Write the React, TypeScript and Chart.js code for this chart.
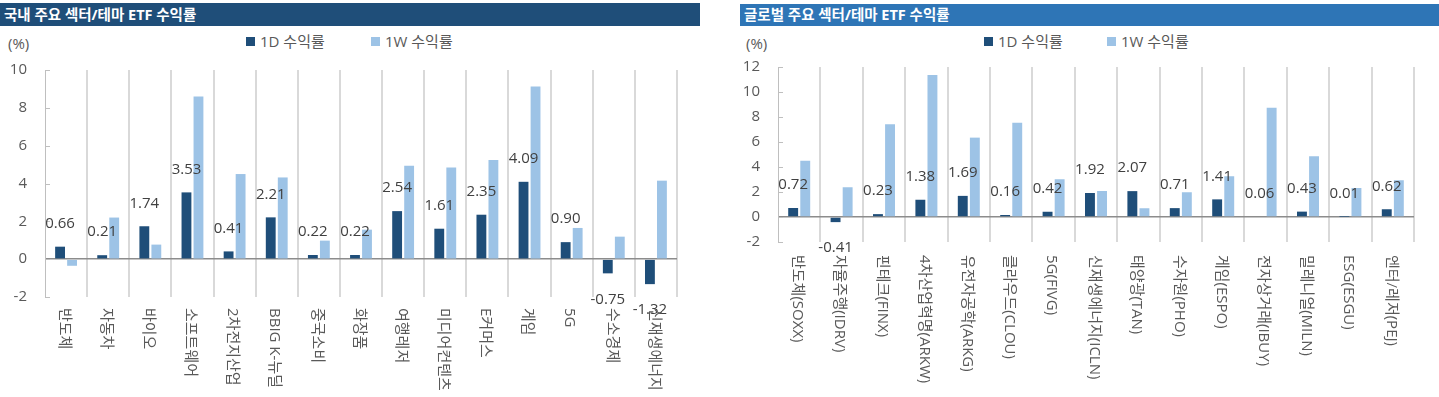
import React, { useEffect, useRef } from 'react';
import { Chart, registerables } from 'chart.js';

Chart.register(...registerables);

// ---------- data ----------
const domesticTitle = '국내 주요 섹터/테마 ETF 수익률';
const domesticCategories = [
  '반도체', '자동차', '바이오', '소프트웨어', '2차전지산업', 'BBIG K-뉴딜', '중국소비', '화장품',
  '여행레저', '미디어컨텐츠', 'E커머스', '게임', '5G', '수소경제', '신재생에너지',
];
const domestic1D = [0.66, 0.21, 1.74, 3.53, 0.41, 2.21, 0.22, 0.22, 2.54, 1.61, 2.35, 4.09, 0.9, -0.75, -1.32];
const domestic1W = [-0.35, 2.2, 0.77, 8.6, 4.5, 4.32, 0.98, 1.56, 4.94, 4.84, 5.24, 9.13, 1.65, 1.19, 4.15];
const domesticYRange = [-2, 10];

const globalTitle = '글로벌 주요 섹터/테마 ETF 수익률';
const globalCategories = [
  '반도체(SOXX)', '자율주행(IDRV)', '핀테크(FINX)', '4차산업혁명(ARKW)', '유전자공학(ARKG)', '클라우드(CLOU)',
  '5G(FIVG)', '신재생에너지(ICLN)', '태양광(TAN)', '수자원(PHO)', '게임(ESPO)', '전자상거래(IBUY)',
  '밀레니얼(MILN)', 'ESG(ESGU)', '엔터/레저(PEJ)',
];
const global1D = [0.72, -0.41, 0.23, 1.38, 1.69, 0.16, 0.42, 1.92, 2.07, 0.71, 1.41, 0.06, 0.43, 0.01, 0.62];
const global1W = [4.5, 2.38, 7.42, 11.36, 6.35, 7.55, 3.02, 2.08, 0.7, 1.98, 3.26, 8.75, 4.86, 2.32, 2.94];
const globalYRange = [-2, 12];

const seriesNames = ['1D 수익률', '1W 수익률'];
const yStep = 2;
const unitLabel = '(%)';

// ---------- style ----------
const FONT = "'Open Sans', 'Noto Sans CJK KR', sans-serif";
const COLOR_1D = '#1F4E79';
const COLOR_1W = '#9DC3E6';
const TEXT = '#595959';
const LABEL_TEXT = '#404040';

type PanelProps = {
  x: number;
  width: number;
  title: string;
  headerColor: string;
  headerLeft: number;
  headerTop: number;
  categories: string[];
  d1: number[];
  w1: number[];
  yRange: number[];
  yWidth: number;
  padTop: number;
  padRight: number;
  padBottom: number;
  xLabelGap: number;
  unitX: number;
  legendX: number[];
};

function BarPanel(p: PanelProps) {
  const ref = useRef<HTMLCanvasElement | null>(null);

  useEffect(() => {
    if (!ref.current) return;

    const decorations = {
      id: 'decorations',
      afterDatasetsDraw(chart: any) {
        const ctx = chart.ctx;
        const area = chart.chartArea;
        const yScale = chart.scales.y;
        // inward tick marks on the y axis
        ctx.save();
        ctx.strokeStyle = '#bfbfbf';
        ctx.lineWidth = 1;
        yScale.ticks.forEach((t: any) => {
          const y = Math.round(yScale.getPixelForValue(t.value)) + 0.5;
          ctx.beginPath();
          ctx.moveTo(area.left, y);
          ctx.lineTo(area.left + 5, y);
          ctx.stroke();
        });
        ctx.restore();

        // value labels for 1D series
        const meta = chart.getDatasetMeta(0);
        const values = chart.data.datasets[0].data as number[];
        ctx.save();
        ctx.font = `15px ${FONT}`;
        ctx.fillStyle = LABEL_TEXT;
        ctx.textAlign = 'center';
        ctx.textBaseline = 'middle';
        meta.data.forEach((el: any, i: number) => {
          const v = values[i];
          const y = v >= 0 ? el.y - 23 : el.y + 26;
          ctx.fillText(v.toFixed(2), el.x, y);
        });
        ctx.restore();
      },
      afterDraw(chart: any) {
        const ctx = chart.ctx;
        const area = chart.chartArea;
        const xScale = chart.scales.x;
        const labels = chart.data.labels as string[];
        ctx.save();
        ctx.font = `15px ${FONT}`;
        ctx.fillStyle = TEXT;
        ctx.textAlign = 'left';
        ctx.textBaseline = 'middle';
        labels.forEach((lab, i) => {
          const x = xScale.getPixelForValue(i) - 2;
          ctx.save();
          ctx.translate(x, area.bottom + p.xLabelGap);
          ctx.rotate(Math.PI / 2);
          ctx.fillText(lab, 0, 0);
          ctx.restore();
        });
        ctx.restore();
      },
    };

    const chart = new Chart(ref.current, {
      type: 'bar',
      data: {
        labels: p.categories,
        datasets: [
          {
            label: seriesNames[0],
            data: p.d1,
            backgroundColor: COLOR_1D,
            categoryPercentage: 0.57,
            barPercentage: 0.82,
          },
          {
            label: seriesNames[1],
            data: p.w1,
            backgroundColor: COLOR_1W,
            categoryPercentage: 0.57,
            barPercentage: 0.82,
          },
        ],
      },
      options: {
        responsive: false,
        animation: false,
        layout: { padding: { left: 0, top: p.padTop, right: p.padRight, bottom: p.padBottom } },
        plugins: {
          legend: { display: false },
          tooltip: { enabled: false },
        },
        scales: {
          x: {
            grid: {
              offset: true,
              drawTicks: false,
              color: '#d9d9d9',
              lineWidth: (c: any) => (c.index === 0 ? 0 : 2),
            },
            border: { display: false },
            ticks: { display: false },
          },
          y: {
            min: p.yRange[0],
            max: p.yRange[1],
            ticks: {
              stepSize: yStep,
              padding: 18,
              color: TEXT,
              font: { family: FONT, size: 15 },
            },
            grid: {
              drawTicks: false,
              color: (c: any) => (c.tick && c.tick.value === 0 ? '#8c8c8c' : 'rgba(0,0,0,0)'),
              lineWidth: (c: any) => (c.tick && c.tick.value === 0 ? 1.5 : 0),
            },
            border: { color: '#bfbfbf', width: 1 },
            afterFit: (s: any) => {
              s.width = p.yWidth;
              s.paddingTop = 0;
              s.paddingBottom = 0;
            },
          },
        },
      },
      plugins: [decorations],
    });
    return () => chart.destroy();
  }, []);

  const textStyle: React.CSSProperties = {
    position: 'absolute',
    fontFamily: FONT,
    fontSize: 15,
    color: TEXT,
    lineHeight: '20px',
    whiteSpace: 'nowrap',
  };

  return (
    <>
      <div
        style={{
          position: 'absolute',
          left: p.headerLeft,
          top: p.headerTop,
          width: p.x + p.width - p.headerLeft,
          height: 26 - p.headerTop,
          background: p.headerColor,
          color: '#fff',
          fontFamily: FONT,
          fontWeight: 700,
          fontSize: 14.5,
          lineHeight: `${26 - p.headerTop}px`,
          paddingLeft: 4,
          boxSizing: 'border-box',
          whiteSpace: 'nowrap',
        }}
      >
        {p.title}
      </div>
      <div style={{ ...textStyle, left: p.unitX, top: 33 }}>{unitLabel}</div>
      {seriesNames.map((name, i) => (
        <div key={name} style={{ ...textStyle, left: p.legendX[i], top: 31, display: 'flex', alignItems: 'center' }}>
          <span
            style={{
              display: 'inline-block',
              width: 9,
              height: 9,
              background: i === 0 ? COLOR_1D : COLOR_1W,
              marginRight: 5,
            }}
          />
          {name}
        </div>
      ))}
      <canvas
        ref={ref}
        width={p.width}
        height={347}
        style={{ position: 'absolute', left: p.x, top: 50, width: p.width, height: 347 }}
      />
    </>
  );
}

export default function App() {
  return (
    <div
      style={{
        position: 'fixed',
        left: 0,
        top: 0,
        width: 1439,
        height: 397,
        background: '#fff',
        overflow: 'hidden',
      }}
    >
      <BarPanel
        x={0}
        width={700}
        title={domesticTitle}
        headerColor="#1F4E79"
        headerLeft={0}
        headerTop={3}
        categories={domesticCategories}
        d1={domestic1D}
        w1={domestic1W}
        yRange={domesticYRange}
        yWidth={45}
        padTop={20}
        padRight={23}
        padBottom={100}
        xLabelGap={11}
        unitX={8}
        legendX={[246, 371]}
      />
      <BarPanel
        x={720}
        width={719}
        title={globalTitle}
        headerColor="#2E75B6"
        headerLeft={740}
        headerTop={4}
        categories={globalCategories}
        d1={global1D}
        w1={global1W}
        yRange={globalYRange}
        yWidth={58}
        padTop={17}
        padRight={25}
        padBottom={155}
        xLabelGap={13}
        unitX={746}
        legendX={[984, 1107]}
      />
    </div>
  );
}
